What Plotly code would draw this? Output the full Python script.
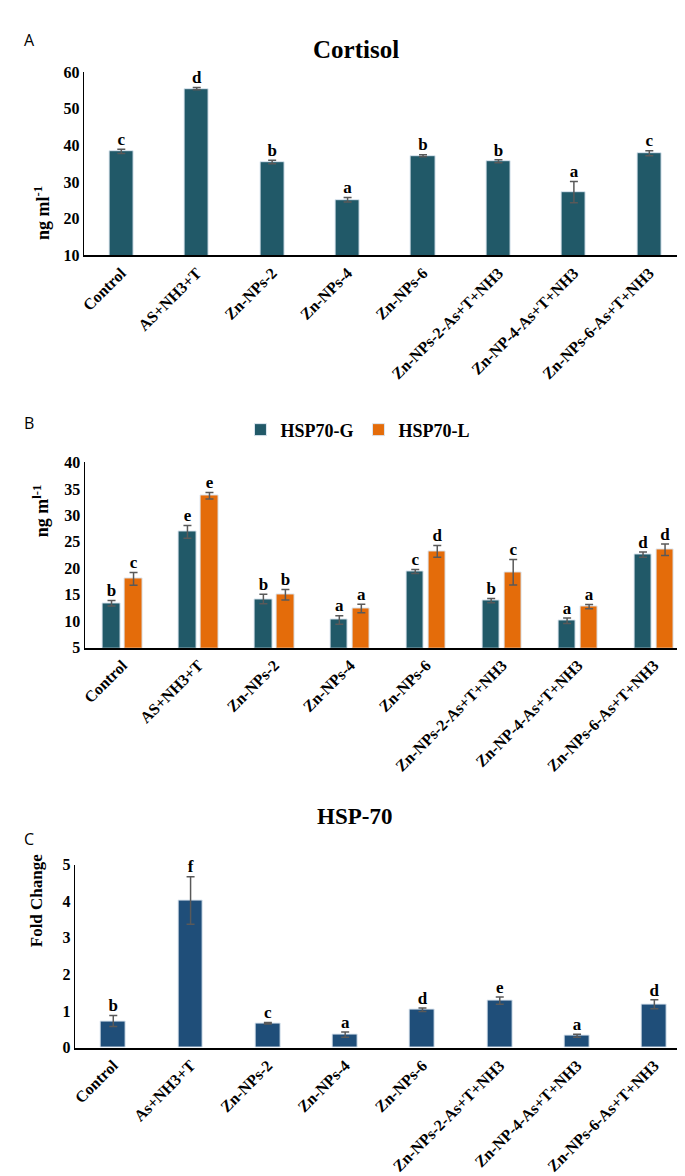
import numpy as np
import plotly.graph_objects as go

# ---- data ----
groups = ["Control", "AS+NH3+T", "Zn-NPs-2", "Zn-NPs-4", "Zn-NPs-6",
          "Zn-NPs-2-As+T+NH3", "Zn-NP-4-As+T+NH3", "Zn-NPs-6-As+T+NH3"]
groups_c = ["Control", "As+NH3+T", "Zn-NPs-2", "Zn-NPs-4", "Zn-NPs-6",
            "Zn-NPs-2-As+T+NH3", "Zn-NP-4-As+T+NH3", "Zn-NPs-6-As+T+NH3"]

cortisol = [38.4, 55.5, 35.5, 25.2, 37.2, 35.7, 27.3, 37.9]
cortisol_err = [0.6, 0.3, 0.5, 0.6, 0.3, 0.4, 2.9, 0.7]
cortisol_sig = ["c", "d", "b", "a", "b", "b", "a", "c"]

hsp_g = [13.4, 26.9, 14.2, 10.25, 19.4, 13.9, 10.1, 22.6]
hsp_g_err = [0.5, 1.2, 0.9, 0.8, 0.4, 0.4, 0.5, 0.5]
hsp_g_sig = ["b", "e", "b", "a", "c", "b", "a", "d"]
hsp_l = [18.0, 33.7, 15.0, 12.4, 23.2, 19.25, 12.75, 23.5]
hsp_l_err = [1.2, 0.6, 1.0, 0.8, 1.1, 2.4, 0.4, 1.1]
hsp_l_sig = ["c", "e", "b", "a", "d", "c", "a", "d"]

fold = [0.73, 4.02, 0.67, 0.36, 1.04, 1.29, 0.33, 1.19]
fold_err = [0.15, 0.65, 0.02, 0.07, 0.05, 0.10, 0.04, 0.12]
fold_sig = ["b", "f", "c", "a", "d", "e", "a", "d"]

TEAL = "#215968"
ORANGE = "#E46C0A"
BLUE = "#1F4E79"
ERR = "#595959"
SERIF = "Liberation Serif"
W, H = 685, 1176

x = np.arange(len(groups))


def px_x(p):
    return p / W


def px_y(p):
    return 1 - p / H


def err(vals):
    return dict(type="data", array=vals, color=ERR, thickness=1.5, width=4)


def bar_with_letters(fig, xs, vals, errs, sig, color, width, xa, ya, name=None, legend=False):
    fig.add_trace(go.Bar(
        x=xs, y=vals, width=width, marker=dict(color=color, line=dict(color="#dce6f0", width=1)),
        error_y=err(errs), xaxis=xa, yaxis=ya, name=name, showlegend=legend))
    fig.add_trace(go.Scatter(
        x=xs, y=np.array(vals) + np.array(errs), mode="text", text=sig,
        textposition="top center", cliponaxis=False,
        textfont=dict(family=SERIF, size=17, color="black", weight="bold"),
        xaxis=xa, yaxis=ya, showlegend=False, hoverinfo="skip"))


fig = go.Figure()

# A - Cortisol
bar_with_letters(fig, x, cortisol, cortisol_err, cortisol_sig, TEAL, 0.32, "x", "y")
# B - HSP70 G / L
bar_with_letters(fig, x - 0.145, hsp_g, hsp_g_err, hsp_g_sig, TEAL, 0.23, "x2", "y2", "HSP70-G", True)
bar_with_letters(fig, x + 0.145, hsp_l, hsp_l_err, hsp_l_sig, ORANGE, 0.23, "x2", "y2", "HSP70-L", True)
# C - HSP-70 fold change
bar_with_letters(fig, x, fold, fold_err, fold_sig, BLUE, 0.32, "x3", "y3")

tickfont = dict(family=SERIF, size=16, color="black", weight="bold")
xcommon = dict(range=[-0.5, 7.5], tickmode="array", tickvals=list(x), tickangle=-45,
               tickfont=tickfont, showline=True, linecolor="black", linewidth=2,
               showgrid=False, zeroline=False, ticks="")
ycommon = dict(tickfont=dict(family=SERIF, size=16, color="black", weight="bold"),
               showline=True, linecolor="black", linewidth=1, showgrid=False,
               zeroline=False, ticks="")

fig.update_layout(
    width=W, height=H, margin=dict(l=0, r=0, t=0, b=0),
    plot_bgcolor="white", paper_bgcolor="white", bargap=0,
    xaxis=dict(xcommon, domain=[px_x(72), px_x(679)], ticktext=groups, anchor="y"),
    yaxis=dict(ycommon, domain=[px_y(243), px_y(57)], range=[10, 60], dtick=10, anchor="x"),
    xaxis2=dict(xcommon, domain=[px_x(73), px_x(684)], ticktext=groups, anchor="y2"),
    yaxis2=dict(ycommon, domain=[px_y(641), px_y(453)], range=[5, 40], dtick=5, anchor="x2"),
    xaxis3=dict(xcommon, domain=[px_x(63), px_x(685)], ticktext=groups_c, anchor="y3"),
    yaxis3=dict(ycommon, domain=[px_y(1047), px_y(861)], range=[0, 5], dtick=1, anchor="x3"),
    legend=dict(orientation="h", x=px_x(348), y=px_y(420), xanchor="center", yanchor="middle",
                font=dict(family=SERIF, size=18, color="black", weight="bold"),
                itemwidth=30, traceorder="normal"),
)

ann_font = dict(family=SERIF, color="black", weight="bold")
panel_font = dict(family="Open Sans", size=16, color="black")
annotations = [
    dict(text="Cortisol", x=px_x(346), y=px_y(18), font=dict(ann_font, size=25)),
    dict(text="HSP-70", x=px_x(345), y=px_y(827), font=dict(ann_font, size=23)),
    dict(text="ng ml<sup>-1</sup>", x=px_x(17), y=px_y(170), textangle=-90, font=dict(ann_font, size=18)),
    dict(text="ng m<sup>l-1</sup>", x=px_x(16), y=px_y(502), textangle=-90, font=dict(ann_font, size=18)),
    dict(text="Fold Change", x=px_x(13), y=px_y(947), textangle=-90, font=dict(ann_font, size=17)),
    dict(text="A", x=px_x(10), y=px_y(11), font=panel_font),
    dict(text="B", x=px_x(10), y=px_y(413), font=panel_font),
    dict(text="C", x=px_x(10), y=px_y(848), font=panel_font),
]
for a in annotations:
    fig.add_annotation(xref="paper", yref="paper", showarrow=False, **a)

fig.write_html("out.html")
